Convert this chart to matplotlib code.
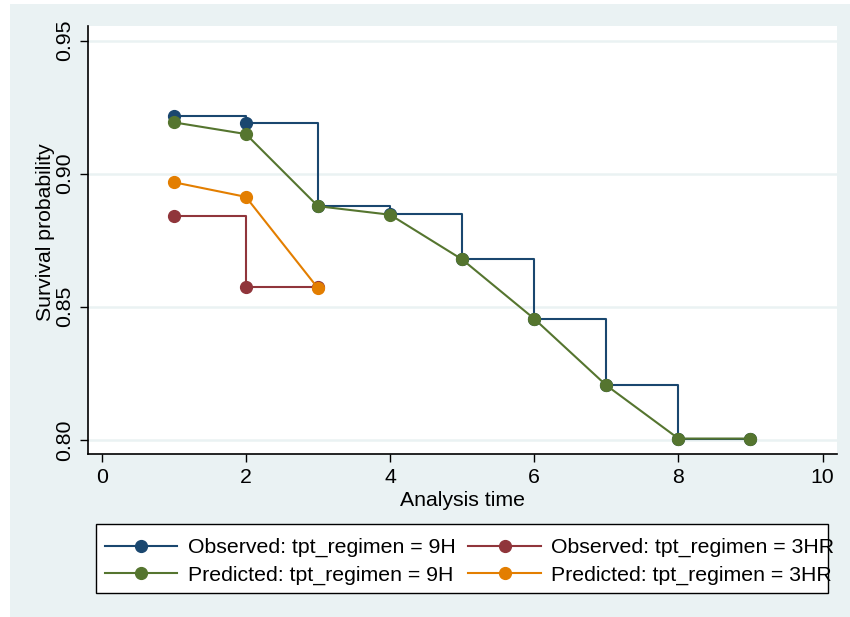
import matplotlib
matplotlib.use("Agg")
import matplotlib.pyplot as plt
from matplotlib.patches import Rectangle

# Dados
tempo_9h = [1, 2, 3, 4, 5, 6, 7, 8, 9]
obs_9h = [0.9215, 0.919, 0.8878, 0.8849, 0.8678, 0.8455, 0.8205, 0.8005, 0.8005]
pred_9h = [0.9193, 0.9149, 0.8878, 0.8846, 0.8678, 0.8455, 0.8205, 0.8005, 0.8005]

tempo_3hr = [1, 2, 3]
obs_3hr = [0.8843, 0.8574, 0.8574]
pred_3hr = [0.8968, 0.8913, 0.8570]

xticks = [0, 2, 4, 6, 8, 10]
yticks = [0.80, 0.85, 0.90, 0.95]

# Cores do esquema s2color do Stata
navy = '#1a476f'
maroon = '#90353b'
verde = '#55752f'
laranja = '#e37e00'
fundo = '#eaf2f3'

plt.rcParams['font.family'] = ['Liberation Sans', 'DejaVu Sans']
fs = 15.3

fig = plt.figure(figsize=(8.5, 6.17), dpi=100)
fig.patch.set_facecolor('white')
fig.patches.append(Rectangle((10 / 850, 0), 840 / 850, 1 - 4 / 617,
                             transform=fig.transFigure, facecolor=fundo,
                             edgecolor='none', zorder=-2))
# caixa da legenda (desenhada à parte, como no Stata o texto passa da borda)
fig.patches.append(Rectangle((96 / 850, 1 - 593 / 617), 732 / 850, 69 / 617,
                             transform=fig.transFigure, facecolor='white',
                             edgecolor='black', linewidth=1.0, zorder=-1))

ax = fig.add_axes([88 / 850, 1 - 454 / 617, 749 / 850, 428 / 617])
ax.set_facecolor('white')

kw = dict(marker='o', markersize=8.5, linewidth=1.5)
l1, = ax.plot(tempo_9h, obs_9h, color=navy, drawstyle='steps-post', zorder=3, **kw)
l2, = ax.plot(tempo_3hr, obs_3hr, color=maroon, drawstyle='steps-post', zorder=3, **kw)
l3, = ax.plot(tempo_9h, pred_9h, color=verde, zorder=4, **kw)
l4, = ax.plot(tempo_3hr, pred_3hr, color=laranja, zorder=4, **kw)

ax.set_xlim(-0.19, 10.2)
ax.set_ylim(0.7947, 0.9555)
ax.set_xticks(xticks)
ax.set_yticks(yticks)
ax.set_yticklabels([f'{v:.2f}' for v in yticks], rotation=90, va='center')
ax.tick_params(axis='both', labelsize=fs, length=5.8, width=1, color='black')
ax.tick_params(axis='y', pad=4.5)
ax.tick_params(axis='x', pad=4.3)

ax.grid(True, axis='y', color=fundo, linewidth=1.8)
ax.set_axisbelow(True)
for lado in ['top', 'right']:
    ax.spines[lado].set_visible(False)
for lado in ['left', 'bottom']:
    ax.spines[lado].set_linewidth(1.2)

fig.text(46 / 850, 1 - 232 / 617, 'Survival probability', rotation=90,
         ha='center', va='center', fontsize=fs)
fig.text(462 / 850, 1 - 500 / 617, 'Analysis time', ha='center', va='center', fontsize=fs)

leg = fig.legend([l1, l3, l2, l4],
                 ['Observed: tpt_regimen = 9H', 'Predicted: tpt_regimen = 9H',
                  'Observed: tpt_regimen = 3HR', 'Predicted: tpt_regimen = 3HR'],
                 ncol=2, loc='upper left', bbox_to_anchor=(105 / 850, 1 - 538 / 617),
                 fontsize=fs, frameon=False, handlelength=3.4,
                 handletextpad=0.5, columnspacing=0.6, labelspacing=0.38,
                 borderpad=0, borderaxespad=0)

fig.savefig('out.png', dpi=100)
